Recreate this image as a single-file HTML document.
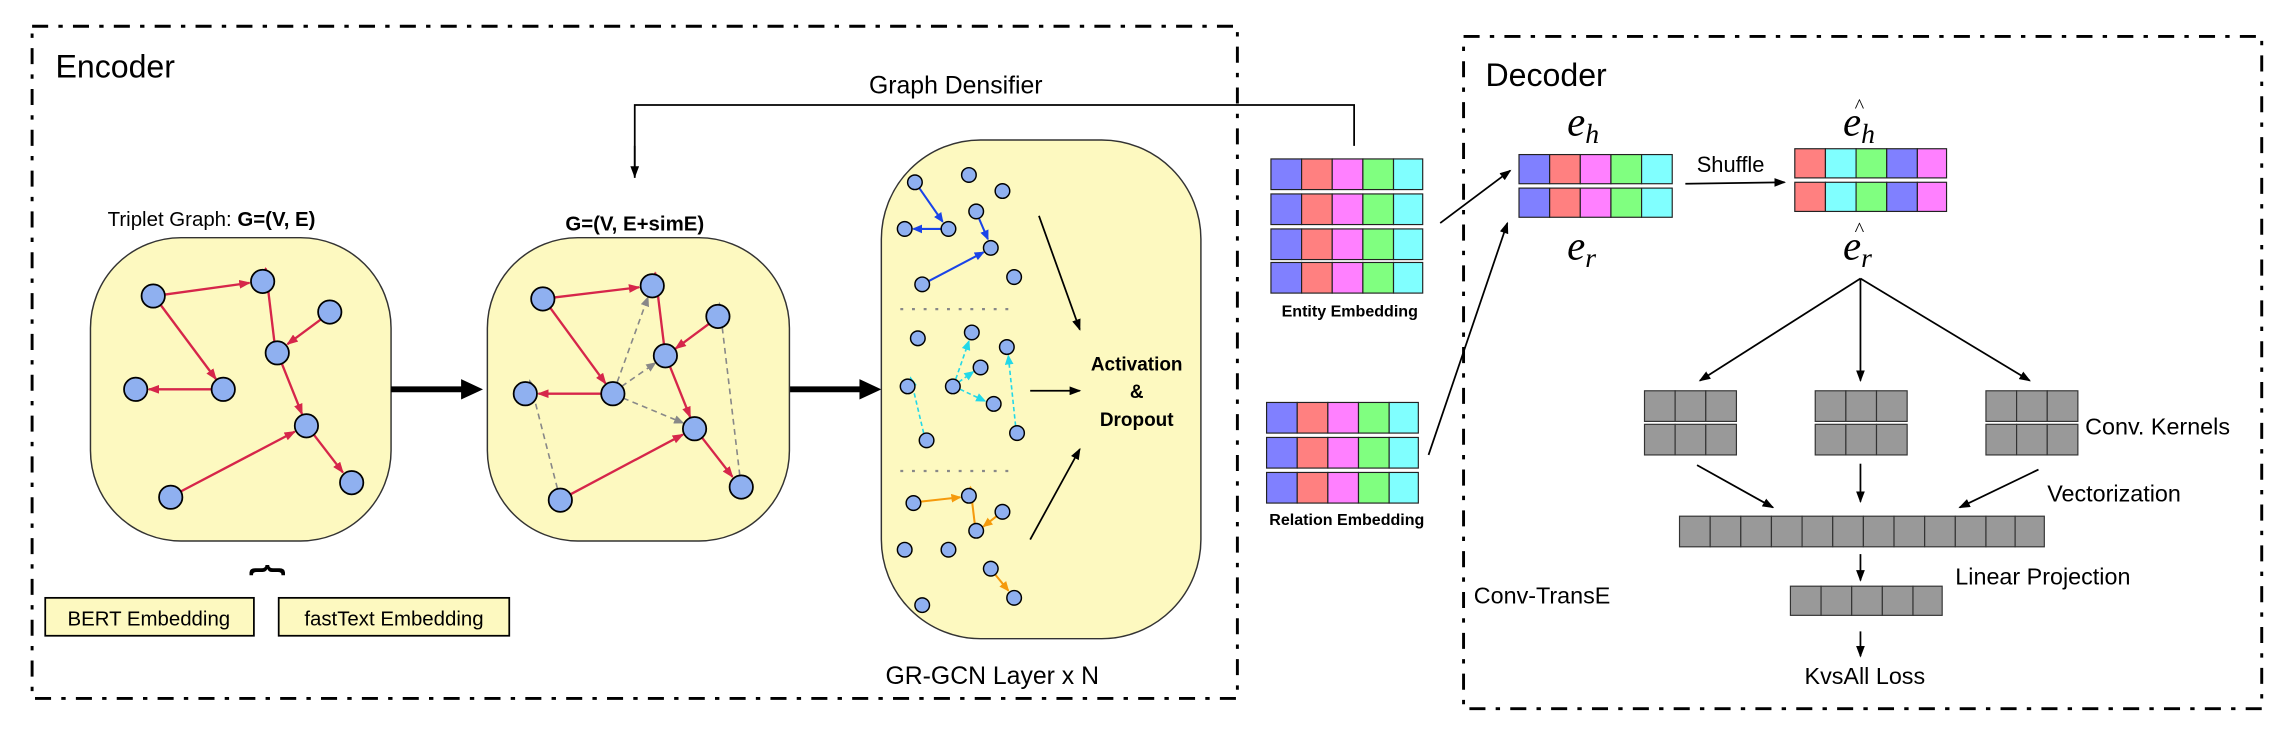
<!DOCTYPE html>
<html><head><meta charset="utf-8"><style>
html,body{margin:0;padding:0;background:#fff;}
svg{display:block;}
text{font-family:"Liberation Sans",sans-serif;}
text.m, text.m tspan{font-family:"Liberation Serif",serif;font-style:italic;}
</style></head><body>
<svg width="2288" height="732" viewBox="0 0 1568 502" preserveAspectRatio="none" xmlns="http://www.w3.org/2000/svg">
<defs>
<marker id="mr" markerUnits="userSpaceOnUse" markerWidth="8" markerHeight="6" refX="7" refY="3" orient="auto"><path d="M0,0 L8,3 L0,6z" fill="#d6264a"/></marker>
<marker id="mg" markerUnits="userSpaceOnUse" markerWidth="7" markerHeight="6" refX="6" refY="3" orient="auto"><path d="M0,0 L7,3 L0,6z" fill="#888"/></marker>
<marker id="mb" markerUnits="userSpaceOnUse" markerWidth="7" markerHeight="6" refX="6" refY="3" orient="auto"><path d="M0,0 L7,3 L0,6z" fill="#1a44e8"/></marker>
<marker id="mc" markerUnits="userSpaceOnUse" markerWidth="7" markerHeight="6" refX="6" refY="3" orient="auto"><path d="M0,0 L7,3 L0,6z" fill="#22d8e8"/></marker>
<marker id="mo" markerUnits="userSpaceOnUse" markerWidth="7" markerHeight="6" refX="6" refY="3" orient="auto"><path d="M0,0 L7,3 L0,6z" fill="#f59a0c"/></marker>
<marker id="mk" markerUnits="userSpaceOnUse" markerWidth="8" markerHeight="6" refX="7" refY="3" orient="auto"><path d="M0,0 L8,3 L0,6z" fill="#000"/></marker>
</defs>

<rect x="22" y="18" width="826" height="461" fill="none" stroke="#000" stroke-width="2" stroke-dasharray="11 7 3 7"/>
<text x="38" y="53" font-size="22">Encoder</text>

<rect x="1003" y="25" width="547" height="461" fill="none" stroke="#000" stroke-width="2" stroke-dasharray="11 7 3 7"/>
<text x="1018" y="59" font-size="22">Decoder</text>

<text x="655" y="64" font-size="17" text-anchor="middle">Graph Densifier</text>
<polyline points="435,122 435,72 928,72 928,100" fill="none" stroke="#000" stroke-width="1.2"/>
<line x1="435" y1="100" x2="435" y2="121" stroke="#000" stroke-width="1.2" marker-end="url(#mk)"/>

<text x="145" y="155" font-size="14" text-anchor="middle">Triplet Graph: <tspan font-weight="bold">G=(V, E)</tspan></text>
<rect x="62" y="163" width="206" height="208" rx="62" ry="62" fill="#fdf9c0" stroke="#333" stroke-width="1"/>
<g stroke="#d6264a" stroke-width="1.6" marker-end="url(#mr)">
<line x1="113" y1="202" x2="171" y2="194"/>
<line x1="110" y1="209" x2="148" y2="260"/>
<line x1="145" y1="267" x2="102" y2="267"/>
<line x1="188" y1="234" x2="182" y2="184"/>
<line x1="220" y1="219" x2="197" y2="236"/>
<line x1="193" y1="249" x2="207" y2="284"/>
<line x1="124" y1="337" x2="202" y2="296"/>
<line x1="215" y1="298" x2="235" y2="324"/>
</g>
<g fill="#8fb0f0" stroke="#000" stroke-width="1.2">
<circle cx="105" cy="203" r="8"/><circle cx="180" cy="193" r="8"/><circle cx="226" cy="214" r="8"/>
<circle cx="190" cy="242" r="8"/><circle cx="93" cy="267" r="8"/><circle cx="153" cy="267" r="8"/>
<circle cx="210" cy="292" r="8"/><circle cx="117" cy="341" r="8"/><circle cx="241" cy="331" r="8"/>
</g>

<line x1="268" y1="267" x2="318" y2="267" stroke="#000" stroke-width="4"/>
<polygon points="316,260 331,267 316,274" fill="#000"/>
<line x1="541" y1="267" x2="591" y2="267" stroke="#000" stroke-width="4"/>
<polygon points="589,260 604,267 589,274" fill="#000"/>

<text x="435" y="158" font-size="14" font-weight="bold" text-anchor="middle">G=(V, E+simE)</text>
<rect x="334" y="163" width="207" height="208" rx="62" ry="62" fill="#fdf9c0" stroke="#333" stroke-width="1"/>
<g stroke="#888" stroke-width="1.1" stroke-dasharray="4 3" marker-end="url(#mg)">
<line x1="423" y1="262" x2="444" y2="204"/>
<line x1="426" y1="265" x2="449" y2="249"/>
<line x1="427" y1="273" x2="468" y2="290"/>
<line x1="382" y1="335" x2="363" y2="261"/>
<line x1="507" y1="326" x2="493" y2="208"/>
</g>
<g stroke="#d6264a" stroke-width="1.6" marker-end="url(#mr)">
<line x1="380" y1="204" x2="438" y2="197"/>
<line x1="377" y1="211" x2="415" y2="263"/>
<line x1="412" y1="270" x2="369" y2="270"/>
<line x1="455" y1="236" x2="449" y2="187"/>
<line x1="486" y1="222" x2="463" y2="239"/>
<line x1="459" y1="251" x2="473" y2="286"/>
<line x1="391" y1="339" x2="468" y2="298"/>
<line x1="481" y1="300" x2="502" y2="327"/>
</g>
<g fill="#8fb0f0" stroke="#000" stroke-width="1.2">
<circle cx="372" cy="205" r="8"/><circle cx="447" cy="196" r="8"/><circle cx="492" cy="217" r="8"/>
<circle cx="456" cy="244" r="8"/><circle cx="360" cy="270" r="8"/><circle cx="420" cy="270" r="8"/>
<circle cx="476" cy="294" r="8"/><circle cx="384" cy="343" r="8"/><circle cx="508" cy="334" r="8"/>
</g>

<rect x="604" y="96" width="219" height="342" rx="68" ry="68" fill="#fdf9c0" stroke="#333" stroke-width="1"/>
<line x1="617" y1="212" x2="695" y2="212" stroke="#888" stroke-width="1.5" stroke-dasharray="2 6"/>
<line x1="617" y1="323" x2="695" y2="323" stroke="#888" stroke-width="1.5" stroke-dasharray="2 6"/>
<g stroke="#1a44e8" stroke-width="1.4" marker-end="url(#mb)">
<line x1="630" y1="129" x2="646" y2="152"/>
<line x1="645" y1="157" x2="626" y2="157"/>
<line x1="671" y1="150" x2="677" y2="164"/>
<line x1="636" y1="193" x2="674" y2="173"/>
</g>
<g stroke="#22d8e8" stroke-width="1.1" stroke-dasharray="3 2" marker-end="url(#mc)">
<line x1="655" y1="260" x2="664" y2="234"/>
<line x1="657" y1="262" x2="667" y2="255"/>
<line x1="658" y1="267" x2="675" y2="275"/>
<line x1="633" y1="297" x2="624" y2="259"/>
<line x1="696" y1="292" x2="691" y2="244"/>
</g>
<g stroke="#f59a0c" stroke-width="1.4" marker-end="url(#mo)">
<line x1="631" y1="344" x2="658" y2="341"/>
<line x1="668" y1="359" x2="665" y2="334"/>
<line x1="683" y1="354" x2="674" y2="361"/>
<line x1="682" y1="394" x2="691" y2="405"/>
</g>
<g fill="#8fb0f0" stroke="#000" stroke-width="1">
<circle cx="627" cy="125" r="5"/><circle cx="664" cy="120" r="5"/><circle cx="687" cy="131" r="5"/>
<circle cx="620" cy="157" r="5"/><circle cx="650" cy="157" r="5"/><circle cx="669" cy="145" r="5"/>
<circle cx="679" cy="170" r="5"/><circle cx="632" cy="195" r="5"/><circle cx="695" cy="190" r="5"/>
<circle cx="629" cy="232" r="5"/><circle cx="666" cy="228" r="5"/><circle cx="690" cy="238" r="5"/>
<circle cx="622" cy="265" r="5"/><circle cx="653" cy="265" r="5"/><circle cx="672" cy="252" r="5"/>
<circle cx="681" cy="277" r="5"/><circle cx="635" cy="302" r="5"/><circle cx="697" cy="297" r="5"/>
<circle cx="626" cy="345" r="5"/><circle cx="664" cy="340" r="5"/><circle cx="687" cy="351" r="5"/>
<circle cx="669" cy="364" r="5"/><circle cx="620" cy="377" r="5"/><circle cx="650" cy="377" r="5"/>
<circle cx="679" cy="390" r="5"/><circle cx="695" cy="410" r="5"/><circle cx="632" cy="415" r="5"/>
</g>
<g stroke="#000" stroke-width="1.2" marker-end="url(#mk)">
<line x1="712" y1="148" x2="740" y2="226"/>
<line x1="706" y1="268" x2="740" y2="268"/>
<line x1="706" y1="370" x2="740" y2="308"/>
</g>
<g font-size="13" font-weight="bold" text-anchor="middle">
<text x="779" y="254">Activation</text>
<text x="779" y="273">&amp;</text>
<text x="779" y="292">Dropout</text>
</g>
<text x="680" y="469" font-size="17" text-anchor="middle">GR-GCN Layer x N</text>

<text x="0" y="0" font-size="20" font-weight="bold" text-anchor="middle" transform="translate(190,391) rotate(-90) scale(1,1.3)">}</text>
<rect x="31" y="410" width="143" height="26" fill="#fdf9c0" stroke="#000" stroke-width="1.2"/>
<text x="102" y="429" font-size="14" text-anchor="middle">BERT Embedding</text>
<rect x="191" y="410" width="158" height="26" fill="#fdf9c0" stroke="#000" stroke-width="1.2"/>
<text x="270" y="429" font-size="14" text-anchor="middle">fastText Embedding</text>

<g stroke="#222" stroke-width="0.8">
<g id="row5">
<rect x="871" y="109" width="21" height="21" fill="#8080ff"/><rect x="892" y="109" width="21" height="21" fill="#ff8080"/><rect x="913" y="109" width="21" height="21" fill="#ff80ff"/><rect x="934" y="109" width="21" height="21" fill="#80ff80"/><rect x="955" y="109" width="20" height="21" fill="#80ffff"/>
</g>
<use href="#row5" y="24"/><use href="#row5" y="48"/><use href="#row5" y="71"/>
<use href="#row5" x="-3" y="167"/><use href="#row5" x="-3" y="191"/><use href="#row5" x="-3" y="215"/>
</g>
<text x="925" y="217" font-size="11" font-weight="bold" text-anchor="middle">Entity Embedding</text>
<text x="923" y="360" font-size="11" font-weight="bold" text-anchor="middle">Relation Embedding</text>
<line x1="987" y1="153" x2="1035" y2="117" stroke="#000" stroke-width="1.2" marker-end="url(#mk)"/>
<line x1="979" y1="312" x2="1033" y2="153" stroke="#000" stroke-width="1.2" marker-end="url(#mk)"/>

<g stroke="#222" stroke-width="0.8">
<rect x="1041" y="106" width="21" height="20" fill="#8080ff"/><rect x="1062" y="106" width="21" height="20" fill="#ff8080"/><rect x="1083" y="106" width="21" height="20" fill="#ff80ff"/><rect x="1104" y="106" width="21" height="20" fill="#80ff80"/><rect x="1125" y="106" width="21" height="20" fill="#80ffff"/>
<rect x="1041" y="129" width="21" height="20" fill="#8080ff"/><rect x="1062" y="129" width="21" height="20" fill="#ff8080"/><rect x="1083" y="129" width="21" height="20" fill="#ff80ff"/><rect x="1104" y="129" width="21" height="20" fill="#80ff80"/><rect x="1125" y="129" width="21" height="20" fill="#80ffff"/>
<rect x="1230" y="102" width="21" height="20" fill="#ff8080"/><rect x="1251" y="102" width="21" height="20" fill="#80ffff"/><rect x="1272" y="102" width="21" height="20" fill="#80ff80"/><rect x="1293" y="102" width="21" height="20" fill="#8080ff"/><rect x="1314" y="102" width="20" height="20" fill="#ff80ff"/>
<rect x="1230" y="125" width="21" height="20" fill="#ff8080"/><rect x="1251" y="125" width="21" height="20" fill="#80ffff"/><rect x="1272" y="125" width="21" height="20" fill="#80ff80"/><rect x="1293" y="125" width="21" height="20" fill="#8080ff"/><rect x="1314" y="125" width="20" height="20" fill="#ff80ff"/>
</g>
<g font-size="28">
<text class="m" x="1074" y="93">e<tspan font-size="19" dy="5">h</tspan></text>
<text class="m" x="1074" y="178">e<tspan font-size="19" dy="5">r</tspan></text>
<text class="m" x="1263" y="93">e<tspan font-size="19" dy="5">h</tspan></text>
<text class="m" x="1263" y="178">e<tspan font-size="19" dy="5">r</tspan></text>
</g>
<text x="1271" y="77" font-size="14" style="font-family:'Liberation Serif',serif">^</text>
<text x="1271" y="162" font-size="14" style="font-family:'Liberation Serif',serif">^</text>
<text x="1186" y="118" font-size="15" text-anchor="middle">Shuffle</text>
<line x1="1155" y1="126" x2="1223" y2="125" stroke="#000" stroke-width="1.2" marker-end="url(#mk)"/>

<g stroke="#000" stroke-width="1.2" marker-end="url(#mk)">
<line x1="1275" y1="191" x2="1165" y2="261"/>
<line x1="1275" y1="191" x2="1275" y2="261"/>
<line x1="1275" y1="191" x2="1391" y2="261"/>
<line x1="1163" y1="319" x2="1215" y2="348"/>
<line x1="1275" y1="318" x2="1275" y2="344"/>
<line x1="1397" y1="322" x2="1343" y2="348"/>
<line x1="1275" y1="380" x2="1275" y2="398"/>
<line x1="1275" y1="433" x2="1275" y2="450"/>
</g>
<g fill="#999" stroke="#333" stroke-width="0.8">
<g id="k3">
<rect x="1127" y="268" width="21" height="21"/><rect x="1148" y="268" width="21" height="21"/><rect x="1169" y="268" width="21" height="21"/>
<rect x="1127" y="291" width="21" height="21"/><rect x="1148" y="291" width="21" height="21"/><rect x="1169" y="291" width="21" height="21"/>
</g>
<use href="#k3" x="117"/><use href="#k3" x="234"/>
<rect x="1151" y="354" width="21" height="21"/><rect x="1172" y="354" width="21" height="21"/><rect x="1193" y="354" width="21" height="21"/><rect x="1214" y="354" width="21" height="21"/><rect x="1235" y="354" width="21" height="21"/><rect x="1256" y="354" width="21" height="21"/><rect x="1277" y="354" width="21" height="21"/><rect x="1298" y="354" width="21" height="21"/><rect x="1319" y="354" width="21" height="21"/><rect x="1340" y="354" width="21" height="21"/><rect x="1361" y="354" width="20" height="21"/><rect x="1381" y="354" width="20" height="21"/>
<rect x="1227" y="402" width="21" height="20"/><rect x="1248" y="402" width="21" height="20"/><rect x="1269" y="402" width="21" height="20"/><rect x="1290" y="402" width="21" height="20"/><rect x="1311" y="402" width="20" height="20"/>
</g>
<g font-size="16">
<text x="1429" y="298">Conv. Kernels</text>
<text x="1403" y="344">Vectorization</text>
<text x="1340" y="401">Linear Projection</text>
<text x="1010" y="414">Conv-TransE</text>
<text x="1278" y="469" text-anchor="middle">KvsAll Loss</text>
</g>
</svg>
</body></html>
